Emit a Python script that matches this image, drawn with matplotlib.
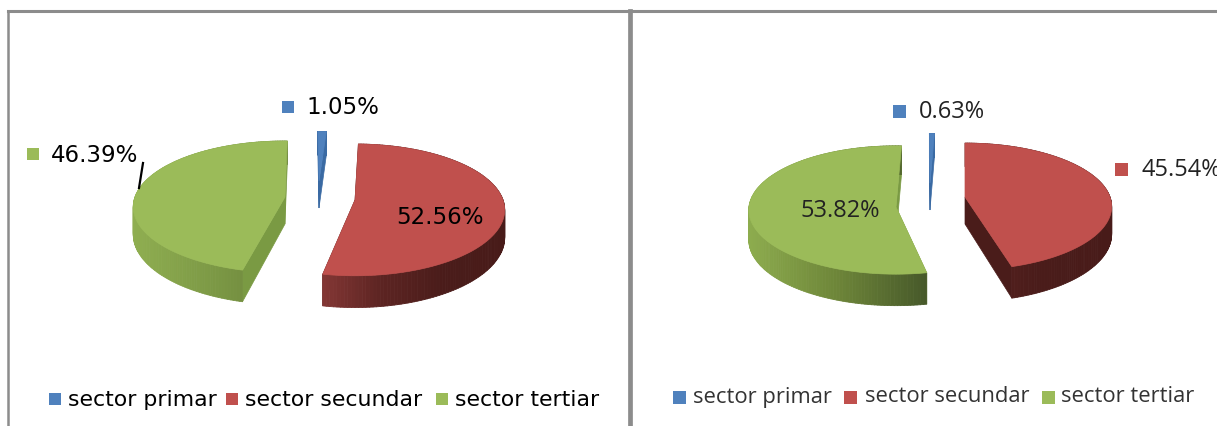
import numpy as np
import matplotlib.pyplot as plt
from matplotlib.collections import PolyCollection
from matplotlib.colors import to_rgb
from matplotlib.patches import Rectangle

categories = ['sector primar', 'sector secundar', 'sector tertiar']
values_left = [1.05, 52.56, 46.39]
values_right = [0.63, 45.54, 53.82]
labels_left = ['1.05%', '52.56%', '46.39%']
labels_right = ['0.63%', '45.54%', '53.82%']

face_colors = ['#4f81bd', '#c0504d', '#9bbb59']
wall_left = ['#3a6aa3', '#4a1c1a', '#7a9a43']
wall_right = ['#3a6aa3', '#4a1c1a', '#7a9a43']
rim_left = [['#3a6aa3', '#3a6aa3'],
            ['#843735', '#5c2422', '#4a1c1a', '#481b19'],
            ['#8fae50', '#7d9a46', '#6a8339']]
rim_right = [['#3a6aa3', '#3a6aa3'],
             ['#5a2321', '#4a1c1a', '#481b19'],
             ['#8dac4e', '#6e8639', '#47592a']]


def project(theta, ax0, ay0, rx, ry, tilt, depth):
    # disk point to picture, front of the pie comes out larger
    u = np.sin(theta)
    v = -np.cos(theta)
    w = 1 - tilt * v
    return ax0 + rx * u / w, ay0 + ry * v / w, depth / w


def stop_color(stops, t):
    rgb = np.array([to_rgb(c) for c in stops])
    pos = np.linspace(0, 1, len(stops))
    return [np.interp(t, pos, rgb[:, i]) for i in range(3)]


def draw_slice(ax, start, share, apex, shape, face, wall, rim):
    rx, ry, tilt, depth = shape
    t1 = np.radians(start)
    t2 = np.radians(start + share * 3.6)
    theta = np.linspace(t1, t2, 160)
    ax0, ay0 = apex
    x, y, d = project(theta, ax0, ay0, rx, ry, tilt, depth)
    # cut walls
    for i in [0, -1]:
        ax.fill([ax0, x[i], x[i], ax0], [ay0, y[i], y[i] + d[i], ay0 + depth],
                color=wall, lw=0.5, zorder=2)
    # outer rim with the horizontal shading
    quads = []
    cols = []
    span = max(x.max() - x.min(), 1)
    for i in range(len(theta) - 1):
        quads.append([(x[i], y[i]), (x[i + 1], y[i + 1]),
                      (x[i + 1], y[i + 1] + d[i + 1]), (x[i], y[i] + d[i])])
        cols.append(stop_color(rim, (x[i] - x.min()) / span))
    ax.add_collection(PolyCollection(quads, facecolors=cols, edgecolors='face',
                                     linewidths=0.6, zorder=3))
    # top face
    ax.fill(np.r_[ax0, x], np.r_[ay0, y], color=face, lw=0.5, zorder=4)


def draw_pie(ax, values, starts, apexes, shapes, walls, rims):
    for i in range(3):
        draw_slice(ax, starts[i], values[i], apexes[i], shapes[i],
                   face_colors[i], walls[i], rims[i])


def square(ax, x, y, size, color):
    ax.add_patch(Rectangle((x, y), size, size, color=color, lw=0, zorder=5))


fig = plt.figure(figsize=(12.17, 4.26), dpi=100)
ax = fig.add_axes([0, 0, 1, 1])
ax.set_xlim(0, 1217)
ax.set_ylim(426, 0)
ax.axis('off')

# panel frames
frame = '#8c8c8c'
ax.plot([8, 1217], [11, 11], color=frame, lw=2.2, zorder=1)
ax.plot([8, 8], [11, 426], color=frame, lw=1.8, zorder=1)
ax.plot([630, 630], [11, 426], color=frame, lw=3.4, zorder=1)

draw_pie(ax, values_left, [-0.5, 1.5, 194.0],
         [(319, 181), (355, 200), (285, 197)],
         [(148, 57, 0.15, 27), (148, 64.4, 0.15, 27), (150, 64.4, 0.15, 27)],
         wall_left, rim_left)
draw_pie(ax, values_right, [-0.3, 0.0, 168.5],
         [(930, 183), (965, 197), (896, 207)],
         [(148, 57, 0.15, 27), (145, 62, 0.15, 27), (147, 64, 0.047, 30)],
         wall_right, rim_right)

# left pie labels
left_font = 'DejaVu Sans'
right_font = 'Open Sans'
square(ax, 282, 101, 12, face_colors[0])
ax.text(306, 108, labels_left[0], fontsize=16.5, family=left_font, va='center', zorder=6)
ax.text(396, 217, labels_left[1], fontsize=16.5, family=left_font, va='center', zorder=6)
square(ax, 27, 148, 12, face_colors[2])
ax.text(51, 155, labels_left[2], fontsize=16.5, family=left_font, va='center', zorder=6)
ax.plot([143, 139], [163, 188], color='black', lw=1.6, zorder=6)

# right pie labels
square(ax, 893, 105, 13, face_colors[0])
ax.text(919, 112, labels_right[0], fontsize=17, family=right_font, va='center',
        color='#222222', zorder=6)
square(ax, 1115, 163, 13, face_colors[1])
ax.text(1141, 170, labels_right[1], fontsize=17, family=right_font, va='center',
        color='#222222', zorder=6)
ax.text(800, 211, labels_right[2], fontsize=17, family=right_font, va='center',
        color='#222222', zorder=6)

# legends
for name, c, mx, tx in zip(categories, face_colors, [49, 226, 436], [68, 245, 455]):
    square(ax, mx, 393, 12, c)
    ax.text(tx, 400, name, fontsize=15.8, family=left_font, va='center', zorder=6)
for name, c, mx, tx in zip(categories, face_colors, [673, 844, 1042], [693, 865, 1061]):
    square(ax, mx, 391, 13, c)
    ax.text(tx, 397, name, fontsize=15.8, family=right_font, va='center',
            color='#333333', zorder=6)

fig.savefig('out.png', dpi=100)
